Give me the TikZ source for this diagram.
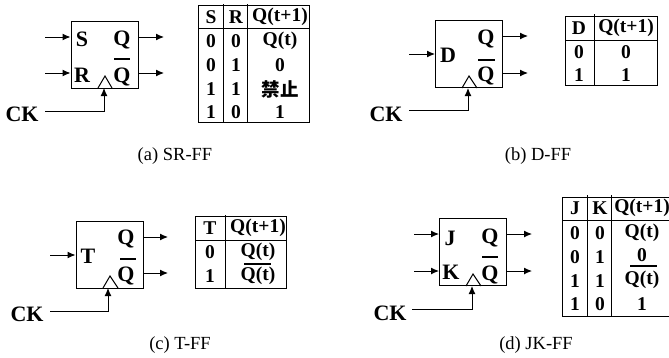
\documentclass[tikz,border=0pt]{standalone}
\usepackage{fontspec}
\setmainfont{Liberation Serif}
\newfontfamily\cjk{Noto Sans CJK SC}
\usepackage{tikz}
\usetikzlibrary{arrows.meta}
\tikzset{
  ffbox/.style={rectangle,draw,line width=1pt,minimum width=67pt,minimum height=67pt,inner sep=0pt},
  tabframe/.style={rectangle,draw,line width=1pt,inner sep=0pt},
  lbl/.style={font=\bfseries\fontsize{22}{22}\selectfont,inner sep=0pt},
  cell/.style={font=\bfseries\fontsize{19.5}{20}\selectfont,inner sep=0pt},
  caption/.style={font=\fontsize{18.5}{19}\selectfont,inner sep=0pt},
  sig/.style={-{Latex[length=8pt,width=7pt]},line width=1pt},
  clk/.style={line width=1pt},
  rule/.style={line width=1pt},
  bar/.style={line width=2pt}
}
\begin{document}
\begin{tikzpicture}[x=1pt,y=-1pt]
\useasboundingbox (0,0) rectangle (669,357);
% (a) SR-FF
\node[ffbox] (SRbox) at (104.5,54.5) {};
\node[lbl] (SRs) at (82,39) {S};
\node[lbl] (SRr) at (82,75) {R};
\node[lbl] (SRq) at (122,40) {Q};
\node[lbl] (SRn) at (122,77) {Q};
\node[lbl] (SRck) at (22,114) {CK};
\coordinate (SRsin) at (45,37);
\coordinate (SRrin) at (45,73);
\coordinate (SRqout) at (164,37);
\coordinate (SRnout) at (164,73);
\coordinate (SRcka) at (45,111);
\coordinate (SRckb) at (104,88);
\draw [sig] (SRsin) -- (SRsin -| SRbox.west);
\draw [sig] (SRrin) -- (SRrin -| SRbox.west);
\draw [sig] (SRqout -| SRbox.east) -- (SRqout);
\draw [sig] (SRnout -| SRbox.east) -- (SRnout);
\draw [sig] (SRcka) -| (SRckb);
\draw [clk] (98,88) -- (105,76) -- (112,88);
\draw [bar] (114,59) -- (130,59);
\node[tabframe,minimum width=111pt,minimum height=117pt] (SRtab) at (253.5,63.5) {};
\draw [rule] (223,4) -- (223,122);
\draw [rule] (247,4) -- (247,122);
\draw [rule] (198,28) -- (309,28);
\node[cell] (SRh1) at (211,17) {S};
\node[cell] (SRh2) at (236,17) {R};
\node[cell] (SRh3) at (280,17) {Q(t+1)};
\node[cell] (SRa1) at (211,41) {0};
\node[cell] (SRa2) at (236,41) {0};
\node[cell] (SRa3) at (280,41) {Q(t)};
\node[cell] (SRb1) at (211,65) {0};
\node[cell] (SRb2) at (236,65) {1};
\node[cell] (SRb3) at (280,65) {0};
\node[cell] (SRc1) at (211,89) {1};
\node[cell] (SRc2) at (236,89) {1};
\node[cell] (SRc3) at (280,89) {\cjk\bfseries\fontsize{18.5}{19}\selectfont 禁止};
\node[cell] (SRd1) at (211,112) {1};
\node[cell] (SRd2) at (236,112) {0};
\node[cell] (SRd3) at (280,112) {1};
\node[caption] (SRcap) at (175,156) {(a) SR-FF};
% (b) D-FF
\node[ffbox] (Dbox) at (469,54) {};
\node[lbl] (Dd) at (448,55) {D};
\node[lbl] (Dq) at (486,39) {Q};
\node[lbl] (Dn) at (486,76) {Q};
\node[lbl] (Dck) at (386,114) {CK};
\coordinate (Ddin) at (409,54);
\coordinate (Dqout) at (528,36);
\coordinate (Dnout) at (528,73);
\coordinate (Dcka) at (409,110);
\coordinate (Dckb) at (468,88);
\draw [sig] (Ddin) -- (Ddin -| Dbox.west);
\draw [sig] (Dqout -| Dbox.east) -- (Dqout);
\draw [sig] (Dnout -| Dbox.east) -- (Dnout);
\draw [sig] (Dcka) -| (Dckb);
\draw [clk] (462,88) -- (469,76) -- (477,88);
\draw [bar] (478,60) -- (495,60);
\node[tabframe,minimum width=92pt,minimum height=69pt] (Dtab) at (611,50.5) {};
\draw [rule] (594,14) -- (594,85);
\draw [rule] (565,40) -- (657,40);
\node[cell] (Dh1) at (579,28) {D};
\node[cell] (Dh2) at (626,28) {Q(t+1)};
\node[cell] (Da1) at (579,52) {0};
\node[cell] (Da2) at (626,52) {0};
\node[cell] (Db1) at (579,75) {1};
\node[cell] (Db2) at (626,75) {1};
\node[caption] (Dcap) at (538,156) {(b) D-FF};
% (c) T-FF
\node[ffbox] (Tbox) at (109.5,254.5) {};
\node[lbl] (Tt) at (88,256) {T};
\node[lbl] (Tq) at (126,239) {Q};
\node[lbl] (Tn) at (126,276) {Q};
\node[lbl] (Tck) at (27,314) {CK};
\coordinate (Ttin) at (50,255);
\coordinate (Tqout) at (168,237);
\coordinate (Tnout) at (168,273);
\coordinate (Tcka) at (50,311);
\coordinate (Tckb) at (108,288);
\draw [sig] (Ttin) -- (Ttin -| Tbox.west);
\draw [sig] (Tqout -| Tbox.east) -- (Tqout);
\draw [sig] (Tnout -| Tbox.east) -- (Tnout);
\draw [sig] (Tcka) -| (Tckb);
\draw [clk] (103,288) -- (110,276) -- (118,288);
\draw [bar] (120,259) -- (136,259);
\node[tabframe,minimum width=91pt,minimum height=72pt] (Ttab) at (241,252) {};
\draw [rule] (225,215) -- (225,288);
\draw [rule] (196,240) -- (287,240);
\node[cell] (Th1) at (210,228) {T};
\node[cell] (Th2) at (258,228) {Q(t+1)};
\node[cell] (Ta1) at (210,252) {0};
\node[cell] (Ta2) at (258,252) {Q(t)};
\node[cell] (Tb1) at (210,276) {1};
\node[cell] (Tb2) at (258,276) {Q(t)};
\draw [bar] (244,264) -- (271,264);
\node[caption] (Tcap) at (180,345) {(c) T-FF};
% (d) JK-FF
\node[ffbox] (JKbox) at (473,252) {};
\node[lbl] (JKj) at (450,238) {J};
\node[lbl] (JKk) at (451,272) {K};
\node[lbl] (JKq) at (490,238) {Q};
\node[lbl] (JKn) at (490,275) {Q};
\node[lbl] (JKck) at (390,313) {CK};
\coordinate (JKjin) at (414,234);
\coordinate (JKkin) at (414,271);
\coordinate (JKqout) at (532,234);
\coordinate (JKnout) at (532,271);
\coordinate (JKcka) at (412,309);
\coordinate (JKckb) at (472,286);
\draw [sig] (JKjin) -- (JKjin -| JKbox.west);
\draw [sig] (JKkin) -- (JKkin -| JKbox.west);
\draw [sig] (JKqout -| JKbox.east) -- (JKqout);
\draw [sig] (JKnout -| JKbox.east) -- (JKnout);
\draw [sig] (JKcka) -| (JKckb);
\draw [clk] (466,286) -- (473,274) -- (481,286);
\draw [bar] (482,257) -- (498,257);
\node[tabframe,minimum width=108pt,minimum height=119pt] (JKtab) at (616,256.5) {};
\draw [rule] (587,195) -- (587,316);
\draw [rule] (611,195) -- (611,316);
\draw [rule] (562,220) -- (669,220);
\node[cell] (JKh1) at (575,208) {J};
\node[cell] (JKh2) at (600,208) {K};
\node[cell] (JKh3) at (642,208) {Q(t+1)};
\node[cell] (JKa1) at (575,233) {0};
\node[cell] (JKa2) at (600,233) {0};
\node[cell] (JKa3) at (642,233) {Q(t)};
\node[cell] (JKb1) at (575,257) {0};
\node[cell] (JKb2) at (600,257) {1};
\node[cell] (JKb3) at (642,255) {0};
\node[cell] (JKc1) at (575,281) {1};
\node[cell] (JKc2) at (600,281) {1};
\node[cell] (JKc3) at (642,280) {Q(t)};
\node[cell] (JKd1) at (575,304) {1};
\node[cell] (JKd2) at (600,304) {0};
\node[cell] (JKd3) at (642,304) {1};
\draw [bar] (630,266) -- (657,266);
\node[caption] (JKcap) at (536,345) {(d) JK-FF};
\end{tikzpicture}
\end{document}
